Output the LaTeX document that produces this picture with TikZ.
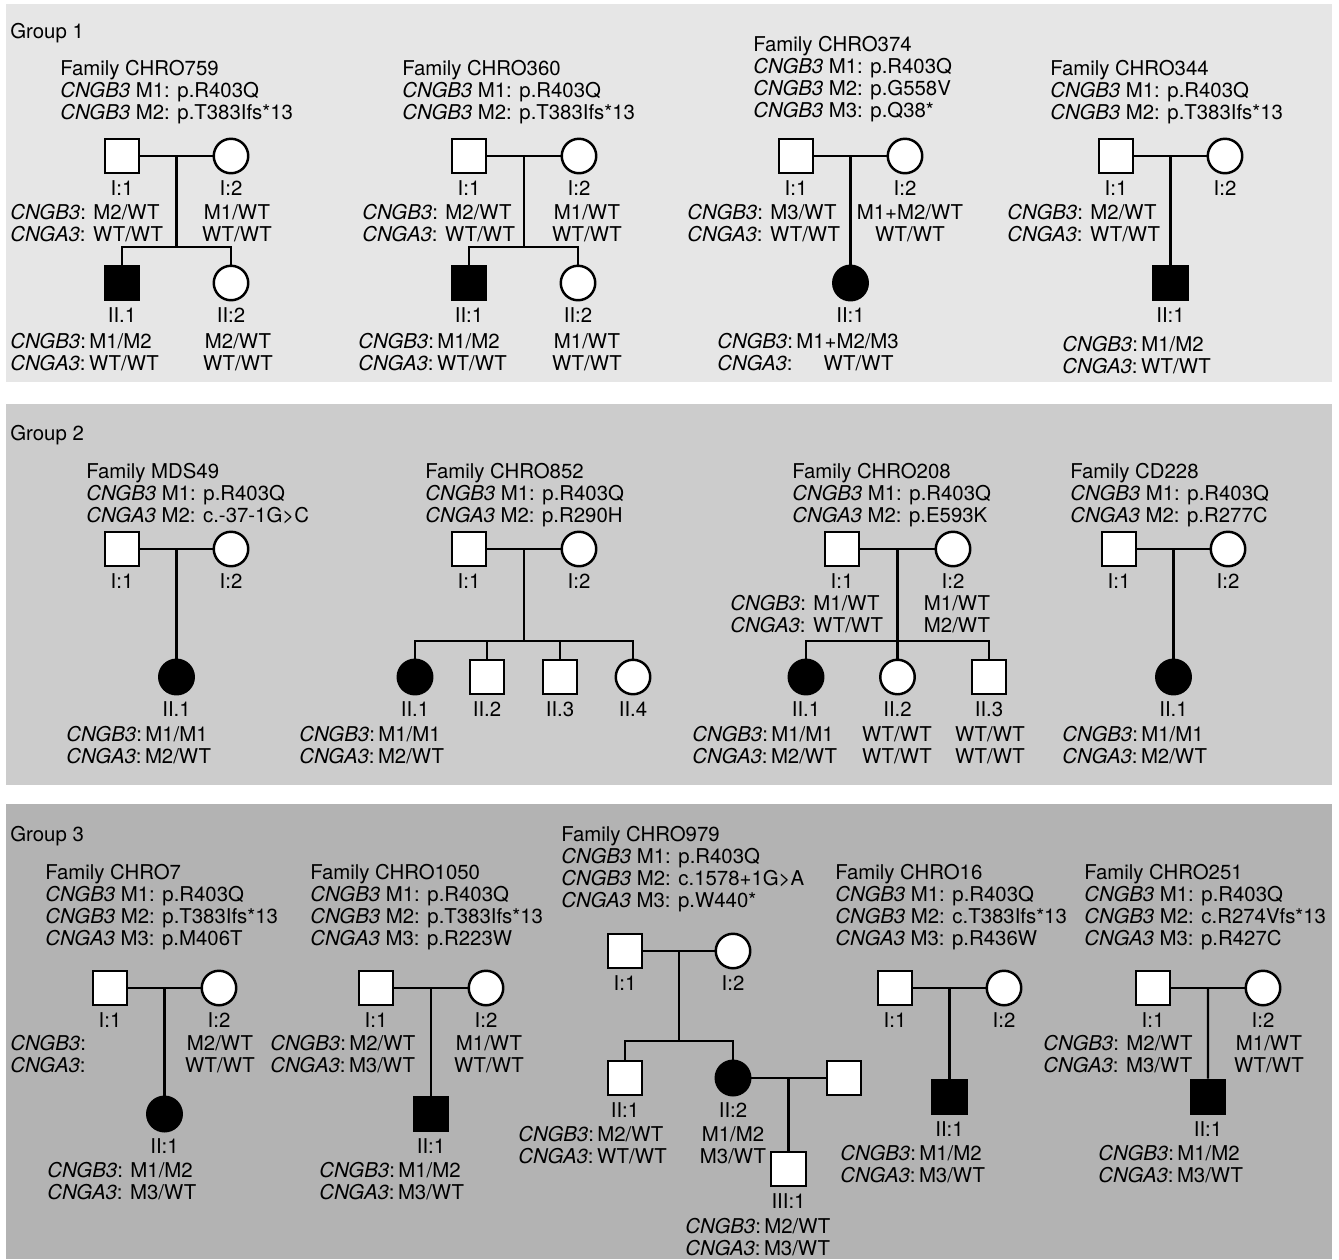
\documentclass[tikz,border=0pt]{standalone}
\usepackage{fontspec}
\setmainfont{TeX Gyre Heros}
\usepackage{tikz}
\usetikzlibrary{positioning, calc}
\definecolor{panelone}{HTML}{E6E6E6}
\definecolor{paneltwo}{HTML}{CCCCCC}
\definecolor{panelthree}{HTML}{B3B3B3}
\newcommand{\cngb}{\textit{CNGB3}}
\newcommand{\cnga}{\textit{CNGA3}}
\tikzset{
  male/.style={draw, line width=1.4pt, fill=white, minimum size=0.69cm, inner sep=0pt},
  female/.style={male, circle},
  aff/.style={fill=black},
  pline/.style={line width=1.4pt},
  txt/.style={inner sep=0pt, align=left, anchor=north west},
  ctxt/.style={inner sep=0pt, align=center, anchor=north},
  idl/.style={inner sep=0pt, below=0.11cm of #1},
}

\begin{document}
\begin{tikzpicture}[x=0.02cm, y=-0.02cm, font=\fontsize{11.6}{12.5}\selectfont]
    \path[use as bounding box, fill=white] (0,0) rectangle (1339,1259);

    % ---------------- Group 1 ----------------
    \fill[panelone] (6,4) rectangle (1332,382);
    \node[txt] (g1) at (10,23) {Group 1};

    % CHRO759
    \node[txt] (c759-h) at (60,60) {Family CHRO759\\ \cngb{} M1: p.R403Q\\ \cngb{} M2: p.T383Ifs*13};
    \node[male] (c759-a) at (122,156) {};
    \node[female] (c759-b) at (231,156) {};
    \node[male, aff] (c759-c) at (122,283) {};
    \node[female] (c759-d) at (231,283) {};
    \node[idl=c759-a] (c759-al) {I:1};
    \node[idl=c759-b] (c759-bl) {I:2};
    \node[idl=c759-c] (c759-cl) {II.1};
    \node[idl=c759-d] (c759-dl) {II:2};
    \draw[pline] (c759-a) -- (c759-b);
    \coordinate (c759-m) at ($(c759-a)!0.5!(c759-b)$);
    \draw[pline] (c759-m) -- ++(0,91) coordinate (c759-s);
    \draw[pline] (c759-c.north) |- (c759-s) -| (c759-d.north);
    \node[txt] (c759-ga) at (10,204) {\cngb: M2/WT\\ \cnga: WT/WT};
    \node[ctxt] (c759-gb) at (237,204) {M1/WT\\ WT/WT};
    \node[txt] (c759-gc) at (10,333) {\cngb:\,M1/M2\\ \cnga:\,WT/WT};
    \node[ctxt] (c759-gd) at (238,333) {M2/WT\\ WT/WT};

    % CHRO360
    \node[txt] (c360-h) at (402,60) {Family CHRO360\\ \cngb{} M1: p.R403Q\\ \cngb{} M2: p.T383Ifs*13};
    \node[male] (c360-a) at (469,156) {};
    \node[female] (c360-b) at (579,156) {};
    \node[male, aff] (c360-c) at (469,283) {};
    \node[female] (c360-d) at (578,283) {};
    \node[idl=c360-a] (c360-al) {I:1};
    \node[idl=c360-b] (c360-bl) {I:2};
    \node[idl=c360-c] (c360-cl) {II:1};
    \node[idl=c360-d] (c360-dl) {II:2};
    \draw[pline] (c360-a) -- (c360-b);
    \coordinate (c360-m) at ($(c360-a)!0.5!(c360-b)$);
    \draw[pline] (c360-m) -- ++(0,91) coordinate (c360-s);
    \draw[pline] (c360-c.north) |- (c360-s) -| (c360-d.north);
    \node[txt] (c360-ga) at (362,204) {\cngb: M2/WT\\ \cnga: WT/WT};
    \node[ctxt] (c360-gb) at (587,204) {M1/WT\\ WT/WT};
    \node[txt] (c360-gc) at (358,333) {\cngb:\,M1/M2\\ \cnga:\,WT/WT};
    \node[ctxt] (c360-gd) at (587,333) {M1/WT\\ WT/WT};

    % CHRO374
    \node[txt] (c374-h) at (753,36) {Family CHRO374\\ \cngb{} M1: p.R403Q\\ \cngb{} M2: p.G558V\\ \cngb{} M3: p.Q38*};
    \node[male] (c374-a) at (796,156) {};
    \node[female] (c374-b) at (905,156) {};
    \node[female, aff] (c374-c) at (850.5,283) {};
    \node[idl=c374-a] (c374-al) {I:1};
    \node[idl=c374-b] (c374-bl) {I:2};
    \node[idl=c374-c] (c374-cl) {II:1};
    \draw[pline] (c374-a) -- (c374-b);
    \coordinate (c374-m) at ($(c374-a)!0.5!(c374-b)$);
    \draw[pline] (c374-m) -- (c374-c);
    \node[txt] (c374-ga) at (687,204) {\cngb: M3/WT\\ \cnga: WT/WT};
    \node[ctxt] (c374-gb) at (910,204) {M1+M2/WT\\ WT/WT};
    \node[txt] (c374-gc) at (717,333) {\cngb:\,M1+M2/M3\\ \cnga:\hspace{0.62cm}WT/WT};

    % CHRO344
    \node[txt] (c344-h) at (1050,60) {Family CHRO344\\ \cngb{} M1: p.R403Q\\ \cngb{} M2: p.T383Ifs*13};
    \node[male] (c344-a) at (1116,156) {};
    \node[female] (c344-b) at (1225,156) {};
    \node[male, aff] (c344-c) at (1170.5,283) {};
    \node[idl=c344-a] (c344-al) {I:1};
    \node[idl=c344-b] (c344-bl) {I:2};
    \node[idl=c344-c] (c344-cl) {II:1};
    \draw[pline] (c344-a) -- (c344-b);
    \coordinate (c344-m) at ($(c344-a)!0.5!(c344-b)$);
    \draw[pline] (c344-m) -- (c344-c);
    \node[txt] (c344-ga) at (1007,204) {\cngb: M2/WT\\ \cnga: WT/WT};
    \node[txt] (c344-gc) at (1062,336) {\cngb:\,M1/M2\\ \cnga:\,WT/WT};

    % ---------------- Group 2 ----------------
    \fill[paneltwo] (6,404) rectangle (1332,785);
    \node[txt] (g2) at (10,425) {Group 2};

    % MDS49
    \node[txt] (m49-h) at (86,463) {Family MDS49\\ \cngb{} M1: p.R403Q\\ \cnga{} M2: c.-37-1G>C};
    \node[male] (m49-a) at (122,549) {};
    \node[female] (m49-b) at (231,549) {};
    \node[female, aff] (m49-c) at (176.5,677) {};
    \node[idl=m49-a] (m49-al) {I:1};
    \node[idl=m49-b] (m49-bl) {I:2};
    \node[idl=m49-c] (m49-cl) {II.1};
    \draw[pline] (m49-a) -- (m49-b);
    \coordinate (m49-m) at ($(m49-a)!0.5!(m49-b)$);
    \draw[pline] (m49-m) -- (m49-c);
    \node[txt] (m49-gc) at (66,726) {\cngb:\,M1/M1\\ \cnga:\,M2/WT};

    % CHRO852
    \node[txt] (c852-h) at (425,463) {Family CHRO852\\ \cngb{} M1: p.R403Q\\ \cnga{} M2: p.R290H};
    \node[male] (c852-a) at (469,549) {};
    \node[female] (c852-b) at (579,549) {};
    \node[female, aff] (c852-c) at (415,677) {};
    \node[male] (c852-d) at (487,677) {};
    \node[male] (c852-e) at (560,677) {};
    \node[female] (c852-f) at (633,677) {};
    \node[idl=c852-a] (c852-al) {I:1};
    \node[idl=c852-b] (c852-bl) {I:2};
    \node[idl=c852-c] (c852-cl) {II.1};
    \node[idl=c852-d] (c852-dl) {II.2};
    \node[idl=c852-e] (c852-el) {II.3};
    \node[idl=c852-f] (c852-fl) {II.4};
    \draw[pline] (c852-a) -- (c852-b);
    \coordinate (c852-m) at ($(c852-a)!0.5!(c852-b)$);
    \draw[pline] (c852-m) -- ++(0,92) coordinate (c852-s);
    \draw[pline] (c852-c.north) |- (c852-s) -| (c852-f.north);
    \draw[pline] (c852-d.north) -- (c852-d.north |- c852-s);
    \draw[pline] (c852-e.north) -- (c852-e.north |- c852-s);
    \node[txt] (c852-gc) at (299,726) {\cngb:\,M1/M1\\ \cnga:\,M2/WT};

    % CHRO208
    \node[txt] (c208-h) at (792,463) {Family CHRO208\\ \cngb{} M1: p.R403Q\\ \cnga{} M2: p.E593K};
    \node[male] (c208-a) at (842,549) {};
    \node[female] (c208-b) at (953,549) {};
    \node[female, aff] (c208-c) at (806,677) {};
    \node[female] (c208-d) at (897.5,677) {};
    \node[male] (c208-e) at (989,677) {};
    \node[idl=c208-a] (c208-al) {I:1};
    \node[idl=c208-b] (c208-bl) {I:2};
    \node[idl=c208-c] (c208-cl) {II.1};
    \node[idl=c208-d] (c208-dl) {II.2};
    \node[idl=c208-e] (c208-el) {II.3};
    \draw[pline] (c208-a) -- (c208-b);
    \coordinate (c208-m) at ($(c208-a)!0.5!(c208-b)$);
    \path (c208-m) ++(0,92) coordinate (c208-s);
    \draw[pline] (c208-m) -- (c208-d);
    \draw[pline] (c208-c.north) |- (c208-s) -| (c208-e.north);
    \node[txt] (c208-ga) at (730,595) {\cngb: M1/WT\\ \cnga: WT/WT};
    \node[ctxt] (c208-gb) at (957,595) {M1/WT\\ M2/WT};
    \node[txt] (c208-gc) at (692,726) {\cngb:\,M1/M1\\ \cnga:\,M2/WT};
    \node[ctxt] (c208-gd) at (897,726) {WT/WT\\ WT/WT};
    \node[ctxt] (c208-ge) at (990,726) {WT/WT\\ WT/WT};

    % CD228
    \node[txt] (d228-h) at (1070,463) {Family CD228\\ \cngb{} M1: p.R403Q\\ \cnga{} M2: p.R277C};
    \node[male] (d228-a) at (1119,549) {};
    \node[female] (d228-b) at (1228,549) {};
    \node[female, aff] (d228-c) at (1173.5,677) {};
    \node[idl=d228-a] (d228-al) {I:1};
    \node[idl=d228-b] (d228-bl) {I:2};
    \node[idl=d228-c] (d228-cl) {II.1};
    \draw[pline] (d228-a) -- (d228-b);
    \coordinate (d228-m) at ($(d228-a)!0.5!(d228-b)$);
    \draw[pline] (d228-m) -- (d228-c);
    \node[txt] (d228-gc) at (1062,726) {\cngb:\,M1/M1\\ \cnga:\,M2/WT};

    % ---------------- Group 3 ----------------
    \fill[panelthree] (6,804) rectangle (1332,1259);
    \node[txt] (g3) at (10,826) {Group 3};

    % CHRO7
    \node[txt] (c7-h) at (45,864) {Family CHRO7\\ \cngb{} M1: p.R403Q\\ \cngb{} M2: p.T383Ifs*13\\ \cnga{} M3: p.M406T};
    \node[male] (c7-a) at (110,988) {};
    \node[female] (c7-b) at (219,988) {};
    \node[female, aff] (c7-c) at (164.5,1114) {};
    \node[idl=c7-a] (c7-al) {I:1};
    \node[idl=c7-b] (c7-bl) {I:2};
    \node[idl=c7-c] (c7-cl) {II:1};
    \draw[pline] (c7-a) -- (c7-b);
    \coordinate (c7-m) at ($(c7-a)!0.5!(c7-b)$);
    \draw[pline] (c7-m) -- (c7-c);
    \node[txt] (c7-ga) at (10,1035) {\cngb:\\ \cnga:};
    \node[ctxt] (c7-gb) at (220,1035) {M2/WT\\ WT/WT};
    \node[txt] (c7-gc) at (47,1162) {\cngb: M1/M2\\ \cnga: M3/WT};

    % CHRO1050
    \node[txt] (c1050-h) at (310,864) {Family CHRO1050\\ \cngb{} M1: p.R403Q\\ \cngb{} M2: p.T383Ifs*13\\ \cnga{} M3: p.R223W};
    \node[male] (c1050-a) at (376,988) {};
    \node[female] (c1050-b) at (486,988) {};
    \node[male, aff] (c1050-c) at (431,1114) {};
    \node[idl=c1050-a] (c1050-al) {I:1};
    \node[idl=c1050-b] (c1050-bl) {I:2};
    \node[idl=c1050-c] (c1050-cl) {II:1};
    \draw[pline] (c1050-a) -- (c1050-b);
    \coordinate (c1050-m) at ($(c1050-a)!0.5!(c1050-b)$);
    \draw[pline] (c1050-m) -- (c1050-c);
    \node[txt] (c1050-ga) at (270,1035) {\cngb:\,M2/WT\\ \cnga:\,M3/WT};
    \node[ctxt] (c1050-gb) at (489,1035) {M1/WT\\ WT/WT};
    \node[txt] (c1050-gc) at (319,1162) {\cngb:\,M1/M2\\ \cnga:\,M3/WT};

    % CHRO979
    \node[txt] (c979-h) at (561,826) {Family CHRO979\\ \cngb{} M1: p.R403Q\\ \cngb{} M2: c.1578+1G>A\\ \cnga{} M3: p.W440*};
    \node[male] (c979-a) at (625,951) {};
    \node[female] (c979-b) at (733,951) {};
    \node[male] (c979-c) at (625,1078) {};
    \node[female, aff] (c979-d) at (733,1078) {};
    \node[male] (c979-e) at (844,1078) {};
    \node[male] (c979-f) at (788.5,1169) {};
    \node[idl=c979-a] (c979-al) {I:1};
    \node[idl=c979-b] (c979-bl) {I:2};
    \node[idl=c979-c] (c979-cl) {II:1};
    \node[idl=c979-d] (c979-dl) {II:2};
    \node[idl=c979-f] (c979-fl) {III:1};
    \draw[pline] (c979-a) -- (c979-b);
    \coordinate (c979-m) at ($(c979-a)!0.5!(c979-b)$);
    \draw[pline] (c979-m) -- ++(0,90) coordinate (c979-s);
    \draw[pline] (c979-c.north) |- (c979-s) -| (c979-d.north);
    \draw[pline] (c979-d) -- (c979-e);
    \coordinate (c979-n) at ($(c979-d)!0.5!(c979-e)$);
    \draw[pline] (c979-n) -- (c979-f);
    \node[txt] (c979-gc) at (518,1126) {\cngb:\,M2/WT\\ \cnga:\,WT/WT};
    \node[ctxt] (c979-gd) at (733,1126) {M1/M2\\ M3/WT};
    \node[txt] (c979-gf) at (685,1218) {\cngb:\,M2/WT\\ \cnga:\,M3/WT};

    % CHRO16
    \node[txt] (c16-h) at (835,864) {Family CHRO16\\ \cngb{} M1: p.R403Q\\ \cngb{} M2: c.T383Ifs*13\\ \cnga{} M3: p.R436W};
    \node[male] (c16-a) at (895,988) {};
    \node[female] (c16-b) at (1004,988) {};
    \node[male, aff] (c16-c) at (949.5,1097) {};
    \node[idl=c16-a] (c16-al) {I:1};
    \node[idl=c16-b] (c16-bl) {I:2};
    \node[idl=c16-c] (c16-cl) {II:1};
    \draw[pline] (c16-a) -- (c16-b);
    \coordinate (c16-m) at ($(c16-a)!0.5!(c16-b)$);
    \draw[pline] (c16-m) -- (c16-c);
    \node[txt] (c16-gc) at (840,1145) {\cngb:\,M1/M2\\ \cnga:\,M3/WT};

    % CHRO251
    \node[txt] (c251-h) at (1084,864) {Family CHRO251\\ \cngb{} M1: p.R403Q\\ \cngb{} M2: c.R274Vfs*13\\ \cnga{} M3: p.R427C};
    \node[male] (c251-a) at (1153,988) {};
    \node[female] (c251-b) at (1263,988) {};
    \node[male, aff] (c251-c) at (1208,1097) {};
    \node[idl=c251-a] (c251-al) {I:1};
    \node[idl=c251-b] (c251-bl) {I:2};
    \node[idl=c251-c] (c251-cl) {II:1};
    \draw[pline] (c251-a) -- (c251-b);
    \coordinate (c251-m) at ($(c251-a)!0.5!(c251-b)$);
    \draw[pline] (c251-m) -- (c251-c);
    \node[txt] (c251-ga) at (1043,1035) {\cngb: M2/WT\\ \cnga: M3/WT};
    \node[ctxt] (c251-gb) at (1269,1035) {M1/WT\\ WT/WT};
    \node[txt] (c251-gc) at (1098,1145) {\cngb:\,M1/M2\\ \cnga:\,M3/WT};
\end{tikzpicture}
\end{document}
